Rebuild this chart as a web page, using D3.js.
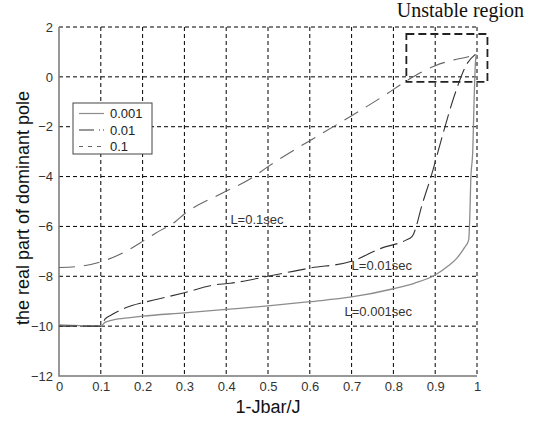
<!DOCTYPE html>
<html>
<head>
<meta charset="utf-8">
<script src="https://cdn.jsdelivr.net/npm/d3@7"></script>
<style>
  body { margin: 0; background: #fff; }
  .tick text { font-family: Arial, "Liberation Sans", sans-serif; font-size: 13px; fill: #333; }
  .domain { display: none; }
</style>
</head>
<body>
<div id="chart"></div>
<script>
//Data
var xTicks = [0, 0.1, 0.2, 0.3, 0.4, 0.5, 0.6, 0.7, 0.8, 0.9, 1];
var yTicks = [-12, -10, -8, -6, -4, -2, 0, 2];
var seriesNames = ["0.001", "0.01", "0.1"];

var x001 = [0, 0.05, 0.1, 0.11, 0.13, 0.17, 0.2, 0.3, 0.4, 0.5, 0.6, 0.7, 0.8, 0.85, 0.9, 0.93, 0.952, 0.97, 0.98, 0.983, 0.985, 0.99, 0.993, 0.996, 0.998];
var y001 = [-9.95, -9.98, -10.0, -9.85, -9.75, -9.66, -9.6, -9.47, -9.33, -9.19, -9.02, -8.83, -8.5, -8.28, -7.95, -7.6, -7.27, -6.85, -6.55, -5.5, -4.2, -2.9, -1.0, 0.5, 0.9];

var x01 = [0, 0.05, 0.1, 0.11, 0.125, 0.146, 0.166, 0.2, 0.24, 0.3, 0.37, 0.41, 0.5, 0.6, 0.7, 0.77, 0.83, 0.845, 0.87, 0.89, 0.92, 0.945, 0.977, 0.996];
var y01 = [-10, -10, -10, -9.72, -9.55, -9.36, -9.22, -9.06, -8.9, -8.66, -8.35, -8.28, -8.0, -7.67, -7.4, -6.88, -6.55, -6.4, -5.05, -4.0, -2.2, -0.8, 0.55, 0.9];

var x1 = [0, 0.05, 0.1, 0.16, 0.2, 0.23, 0.278, 0.3, 0.39, 0.46, 0.5, 0.63, 0.69, 0.78, 0.834, 0.9, 0.945, 0.977, 0.996];
var y1 = [-7.65, -7.6, -7.42, -7.0, -6.6, -6.28, -5.81, -5.5, -4.67, -4.07, -3.6, -2.26, -1.66, -0.73, -0.13, 0.45, 0.68, 0.8, 0.9];

//Unstable region box corners (data units)
var boxX = [0.831, 1.025];
var boxY = [-0.2, 1.72];

//SVG setup
var margin = { top: 27, right: 60, bottom: 45, left: 59 };
var W = 537, H = 421;
var width = W - margin.left - margin.right;
var height = H - margin.top - margin.bottom;

var root = d3.select("#chart").append("svg")
	.attr("width", W)
	.attr("height", H);

var svg = root.append("g")
	.attr("transform", "translate(" + margin.left + "," + margin.top + ")");

//Scales
var x = d3.scaleLinear().domain([0, 1]).range([0, width]);
var y = d3.scaleLinear().domain([-12, 2]).range([height, 0]);

//Grid
svg.append("g").selectAll("line.vg")
	.data(xTicks.slice(1))
	.enter().append("line")
	.attr("x1", function(d) { return x(d); })
	.attr("x2", function(d) { return x(d); })
	.attr("y1", 0).attr("y2", height)
	.attr("stroke", "#000").attr("stroke-width", 1)
	.attr("stroke-dasharray", "4,3");

svg.append("g").selectAll("line.hg")
	.data(yTicks.slice(1))
	.enter().append("line")
	.attr("x1", 0).attr("x2", width)
	.attr("y1", function(d) { return y(d); })
	.attr("y2", function(d) { return y(d); })
	.attr("stroke", "#000").attr("stroke-width", 1)
	.attr("stroke-dasharray", "4,3");

//Axes
svg.append("g")
	.attr("transform", "translate(0," + height + ")")
	.call(d3.axisBottom(x).tickValues(xTicks).tickSize(0).tickPadding(6)
		.tickFormat(function(d) { return d3.format("")(d); }));

svg.append("g")
	.call(d3.axisLeft(y).tickValues(yTicks).tickSize(0).tickPadding(6));

//left + bottom frame
svg.append("path")
	.attr("d", "M0,0V" + height + "H" + width)
	.attr("fill", "none")
	.attr("stroke", "#777")
	.attr("stroke-width", 1.5);

//Axis labels
root.append("text")
	.attr("x", margin.left + width / 2)
	.attr("y", 413)
	.attr("text-anchor", "middle")
	.attr("font-family", "Arial, 'Liberation Sans', sans-serif")
	.attr("font-size", 18)
	.attr("fill", "#111")
	.text("1-Jbar/J");

root.append("text")
	.attr("transform", "translate(29," + (margin.top + 181) + ") rotate(-90)")
	.attr("text-anchor", "middle")
	.attr("font-family", "Arial, 'Liberation Sans', sans-serif")
	.attr("font-size", 18)
	.attr("fill", "#111")
	.text("the real part of dominant pole");

//Curves
var line = d3.line()
	.x(function(d) { return x(d[0]); })
	.y(function(d) { return y(d[1]); })
	.curve(d3.curveMonotoneX);

var series = [
	{ name: seriesNames[0], xs: x001, ys: y001, color: "#8c8c8c", width: 1.3, dash: null },
	{ name: seriesNames[1], xs: x01, ys: y01, color: "#333", width: 1.1, dash: "18,6" },
	{ name: seriesNames[2], xs: x1, ys: y1, color: "#666", width: 1.1, dash: "16,9" }
];

series.forEach(function(s) {
	svg.append("path")
		.datum(d3.zip(s.xs, s.ys))
		.attr("d", line)
		.attr("fill", "none")
		.attr("stroke", s.color)
		.attr("stroke-width", s.width)
		.attr("stroke-dasharray", s.dash);
});

//Annotations
var note = function(px, py, t) {
	svg.append("text")
		.attr("x", x(px))
		.attr("y", y(py))
		.attr("font-family", "Arial, 'Liberation Sans', sans-serif")
		.attr("font-size", 13)
		.attr("fill", "#333")
		.text(t);
};
note(0.41, -5.9, "L=0.1sec");
note(0.7, -7.75, "L=0.01sec");
note(0.683, -9.6, "L=0.001sec");

//Unstable region box
svg.append("rect")
	.attr("x", x(boxX[0]))
	.attr("y", y(boxY[1]))
	.attr("width", x(boxX[1]) - x(boxX[0]))
	.attr("height", y(boxY[0]) - y(boxY[1]))
	.attr("fill", "none")
	.attr("stroke", "#222")
	.attr("stroke-width", 1.8)
	.attr("stroke-dasharray", "8,4");

root.append("text")
	.attr("x", 524)
	.attr("y", 17)
	.attr("text-anchor", "end")
	.attr("font-family", "'Liberation Serif', 'Times New Roman', serif")
	.attr("font-size", 20)
	.attr("fill", "#111")
	.text("Unstable region");

//Legend
var legend = root.append("g").attr("transform", "translate(73,103)");
legend.append("rect")
	.attr("width", 79).attr("height", 51)
	.attr("fill", "#fff")
	.attr("stroke", "#444").attr("stroke-width", 1);

var legendDash = [null, "15,5,1,3", "4,5"];
series.forEach(function(s, i) {
	var ly = 10.5 + i * 16.5;
	legend.append("line")
		.attr("x1", 6).attr("x2", 31)
		.attr("y1", ly).attr("y2", ly)
		.attr("stroke", s.color)
		.attr("stroke-width", 1.2)
		.attr("stroke-dasharray", legendDash[i]);
	legend.append("text")
		.attr("x", 37).attr("y", ly + 4.5)
		.attr("font-family", "Arial, 'Liberation Sans', sans-serif")
		.attr("font-size", 13)
		.attr("fill", "#222")
		.text(s.name);
});
</script>
</body>
</html>
